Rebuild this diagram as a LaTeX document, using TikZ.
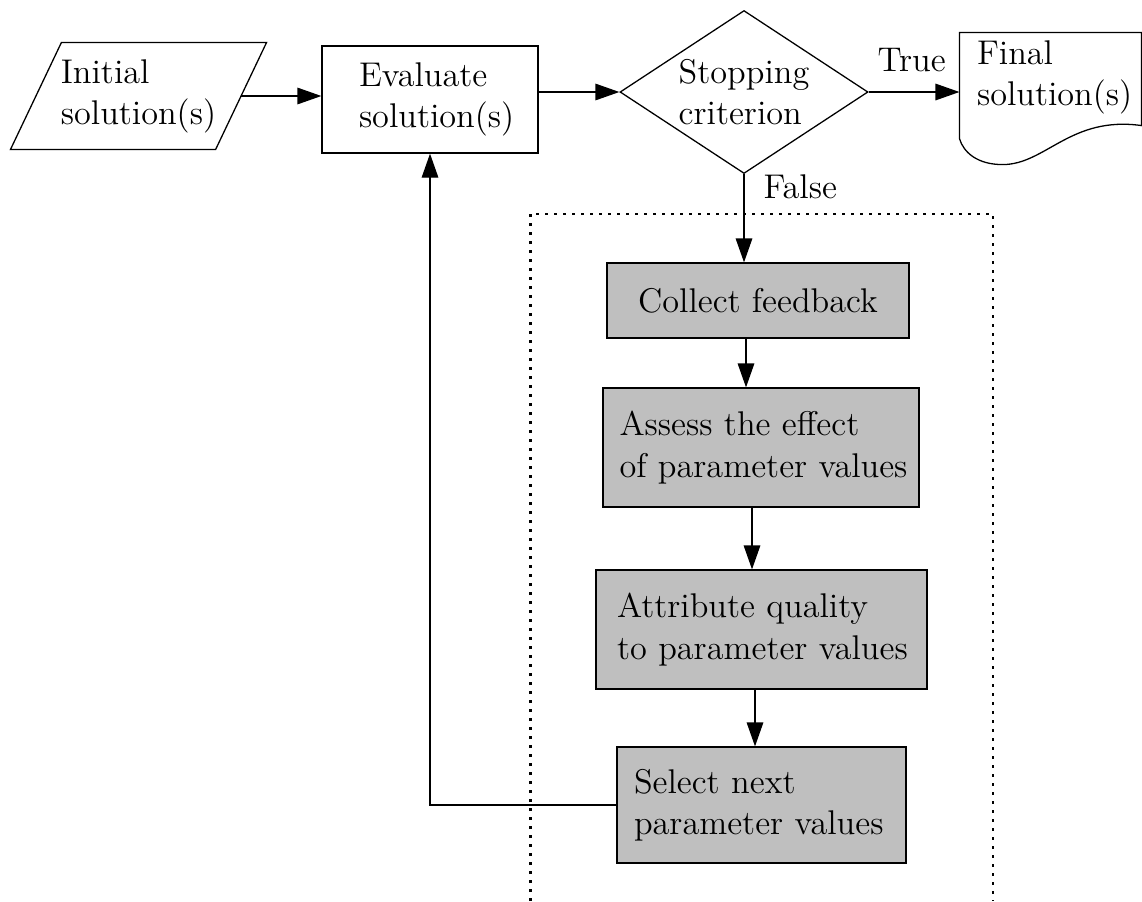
\documentclass[tikz,border=0pt]{standalone}
\usetikzlibrary{shapes.geometric,arrows.meta,calc}
\begin{document}
\begin{tikzpicture}[x=0.35pt,y=-0.35pt,
  txt/.style={font=\fontsize{12}{14.4}\selectfont, inner sep=0pt},
  box/.style={txt, draw, rectangle, line width=0.45pt},
  graybox/.style={box, fill=lightgray, align=left},
  arr/.style={line width=0.45pt, -{Triangle[length=8.4pt,width=5.8pt]}},
  dotframe/.style={line width=1pt, dash pattern=on 0.9pt off 2.25pt}]
\useasboundingbox (0,0) rectangle (1142,901);

% dotted frame (open at the bottom)
\draw[dotframe] (530.5,901) -- (530.5,214) -- (993,214) -- (993,901);

% nodes
\node[txt, minimum width=71.4pt, minimum height=37.1pt, align=left]
      (init) at (138.5,96) {Initial\\solution(s)};
\draw[line width=0.45pt] ($(init.north west)+(25.5,0)$) -- ($(init.north east)+(25.5,0)$)
      -- ($(init.south east)+(-25.5,0)$) -- ($(init.south west)+(-25.5,0)$) -- cycle;
\node[box, minimum width=75.6pt, minimum height=37.45pt, text width=49.7pt, align=left]
      (eval) at (430,99.5) {\mbox{Evaluate}\\\mbox{solution(s)}};
\node[txt, draw, line width=0.45pt, diamond, aspect=1.52, minimum width=86.8pt, minimum height=57.05pt, align=left]
      (stop) at (744,92) {Stopping\\criterion};
\node[txt, minimum width=63.35pt, minimum height=30.8pt, text width=51.45pt, align=left]
      (final) at (1050.5,77) {\mbox{Final}\\\mbox{solution(s)}};
\draw[line width=0.45pt] ($(final.south west)+(0,17)$) -- (final.north west) -- (final.north east)
      -- ($(final.south east)+(0,4)$)
      .. controls ($(final.south east)+(-71,-6)$) and ($(final.south east)+(-96,43)$) .. ($(final.south east)+(-139,43)$)
      .. controls ($(final.south east)+(-164,43)$) and ($(final.south east)+(-178,31)$) .. ($(final.south west)+(0,17)$);

\node[graybox, minimum width=105.7pt, minimum height=26.25pt, align=center]
      (collect) at (758,300.5) {Collect feedback};
\node[graybox, minimum width=110.6pt, minimum height=41.65pt, text width=99.05pt]
      (assess) at (761,447.5) {\mbox{Assess the effect}\\\mbox{of parameter values}};
\node[graybox, minimum width=115.85pt, minimum height=41.65pt, text width=101.15pt]
      (attr) at (761.5,629.5) {\mbox{Attribute quality}\\\mbox{to parameter values}};
\node[graybox, minimum width=101.15pt, minimum height=40.6pt, text width=89.25pt]
      (select) at (761.5,805) {\mbox{Select next}\\\mbox{parameter values}};

% labels
\node[txt, anchor=base west] (truelbl) at (877,71) {True};
\node[txt, anchor=base west] (falselbl) at (763,198) {False};

% connectors
\draw[arr] (init.east) -- (init.east -| eval.west);
\draw[arr] (eval.east |- stop.west) -- (stop.west);
\draw[arr] (stop.east) -- (stop.east -| final.west);
\draw[arr] (stop.south) -- (stop.south |- collect.north);
\draw[arr] ($(collect.south)+(-12,0)$) coordinate (c1) -- (c1 |- assess.north);
\draw[arr] ($(assess.south)+(-9,0)$) coordinate (c2) -- (c2 |- attr.north);
\draw[arr] ($(attr.south)+(-6.5,0)$) coordinate (c3) -- (c3 |- select.north);
\draw[arr] (select.west) -| (eval.south);
\end{tikzpicture}
\end{document}
